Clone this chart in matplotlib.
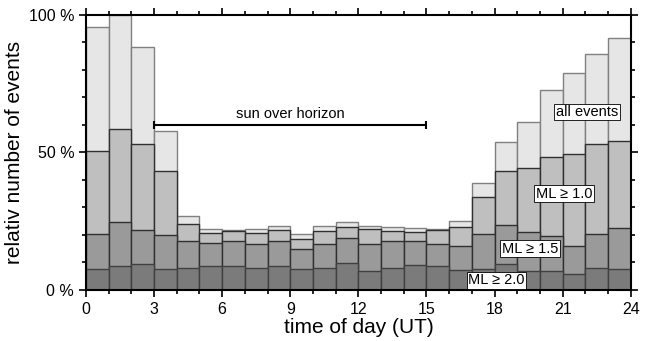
import matplotlib
matplotlib.use('Agg')
from matplotlib import pyplot as plt
from matplotlib.ticker import MultipleLocator
import numpy as np

## hourly event rates (% of max), bins 0..23 UT
hours = np.arange(24)
all_events = [95.7, 100, 88.5, 57.9, 26.9, 22.3, 21.8, 22.1, 23.4, 20.2, 23.2, 24.8,
              23.2, 22.8, 22.4, 22.2, 24.9, 38.7, 53.7, 61.2, 72.7, 78.9, 85.9, 91.6]
ml_10 = [50.7, 58.5, 53.0, 43.2, 24.0, 20.8, 21.5, 20.6, 21.9, 18.4, 21.3, 23.0,
         22.2, 21.3, 21.0, 21.6, 23.0, 33.7, 43.2, 44.2, 48.2, 49.3, 53.0, 54.3]
ml_15 = [20.2, 24.8, 21.9, 19.9, 17.6, 17.2, 17.7, 16.7, 17.9, 14.8, 16.6, 18.7,
         16.6, 17.8, 17.7, 16.6, 15.9, 20.3, 23.5, 21.0, 19.5, 16.1, 20.2, 22.4]
ml_20 = [7.5, 8.7, 9.3, 7.5, 7.9, 8.8, 8.8, 7.9, 8.6, 7.5, 8.0, 9.7,
         6.9, 7.9, 9.1, 8.8, 7.3, 7.5, 9.3, 6.9, 6.7, 5.7, 7.9, 7.5]

series = [
    (all_events, '#e6e6e6', '#808080', 'all events', 22.07, 64.7),
    (ml_10, '#bfbfbf', '#303030', 'ML ≥ 1.0', 21.06, 34.9),
    (ml_15, '#9a9a9a', '#303030', 'ML ≥ 1.5', 19.56, 14.9),
    (ml_20, '#7b7b7b', '#404040', 'ML ≥ 2.0', 18.08, 3.5),
]

plt.rcParams['font.family'] = ['Liberation Sans', 'DejaVu Sans']

fig = plt.figure(figsize=(6.51, 3.41), dpi=100)
ax = fig.add_axes([0.132, 0.150, 0.837, 0.806])

for vals, fc, ec, name, lx, ly in series:
    ax.bar(hours, vals, width=1, align='edge', color=fc, edgecolor=ec, linewidth=1.0)
for vals, fc, ec, name, lx, ly in series:
    ax.text(lx, ly, name, ha='center', va='center', fontsize=10.5,
            bbox=dict(boxstyle='square,pad=0.1', facecolor='white', edgecolor='black', linewidth=0.6))

### sun over horizon marker
ax.errorbar([9], [60], xerr=[[6], [6]], color='black', linewidth=1.5, capsize=3, capthick=1.5)
ax.text(9, 61.5, 'sun over horizon', ha='center', va='bottom', fontsize=10.5)

ax.set_xlim(0, 24)
ax.set_ylim(0, 100)
ax.xaxis.set_major_locator(MultipleLocator(3))
ax.xaxis.set_minor_locator(MultipleLocator(1))
ax.yaxis.set_minor_locator(MultipleLocator(10))
ax.set_yticks([0, 50, 100])
ax.set_yticklabels(['0 %', '50 %', '100 %'])
ax.tick_params(which='both', direction='out', top=True, right=True, width=1.2, labelsize=11.5)
ax.tick_params(which='major', length=5)
ax.tick_params(which='minor', length=3)
for s in ax.spines.values():
    s.set_linewidth(1.5)
ax.set_xlabel('time of day (UT)', fontsize=15, labelpad=1)
ax.set_ylabel('relativ number of events', fontsize=15, labelpad=3)

plt.savefig('out.png', dpi=100)
plt.close()
